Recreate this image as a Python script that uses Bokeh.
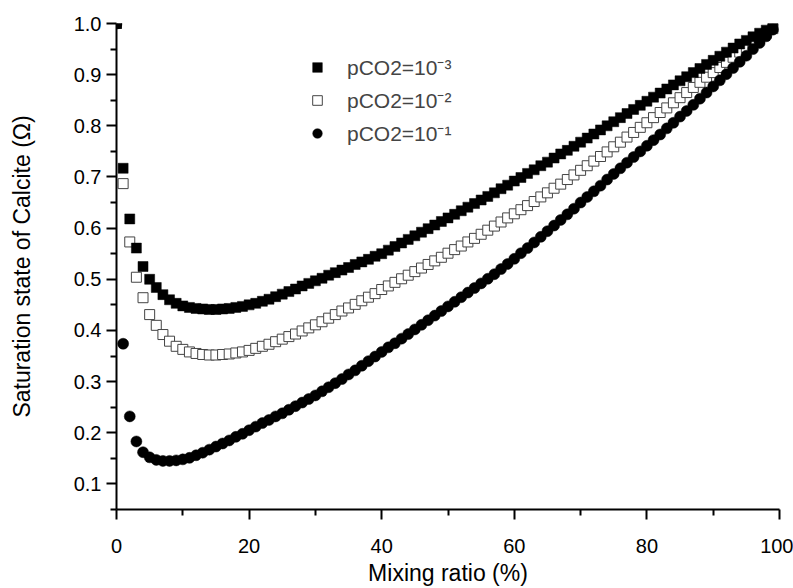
from bokeh.plotting import figure
from bokeh.models import Range1d, FixedTicker, PrintfTickFormatter, Legend, LegendItem
from bokeh.embed import file_html
from bokeh.resources import INLINE

# Mixing ratio (%)
mixing = list(range(0, 100))

# pCO2 = 10^-3 (filled squares)
omega_m3 = [
    1.000, 0.717, 0.618, 0.561, 0.525, 0.500, 0.484, 0.470, 0.460, 0.453,
    0.448, 0.445, 0.443, 0.442, 0.441, 0.441, 0.442, 0.443, 0.445, 0.447,
    0.450, 0.453, 0.457, 0.461, 0.466, 0.471, 0.476, 0.481, 0.487, 0.492,
    0.497, 0.502, 0.508, 0.513, 0.518, 0.523, 0.529, 0.534, 0.539, 0.545,
    0.550, 0.557, 0.564, 0.571, 0.578, 0.585, 0.592, 0.599, 0.606, 0.613,
    0.620, 0.627, 0.634, 0.641, 0.648, 0.655, 0.662, 0.669, 0.677, 0.684,
    0.692, 0.699, 0.707, 0.714, 0.722, 0.729, 0.737, 0.745, 0.752, 0.760,
    0.768, 0.776, 0.784, 0.792, 0.800, 0.808, 0.816, 0.824, 0.832, 0.840,
    0.848, 0.856, 0.864, 0.872, 0.880, 0.888, 0.896, 0.904, 0.912, 0.920,
    0.928, 0.936, 0.944, 0.952, 0.960, 0.967, 0.974, 0.981, 0.987, 0.993,
]

# pCO2 = 10^-2 (open squares)
omega_m2 = [
    1.000, 0.687, 0.573, 0.504, 0.464, 0.431, 0.410, 0.392, 0.379, 0.369,
    0.363, 0.358, 0.355, 0.353, 0.352, 0.352, 0.353, 0.354, 0.356, 0.358,
    0.361, 0.365, 0.369, 0.373, 0.378, 0.383, 0.388, 0.393, 0.399, 0.405,
    0.411, 0.417, 0.424, 0.431, 0.438, 0.444, 0.451, 0.458, 0.465, 0.472,
    0.480, 0.487, 0.494, 0.501, 0.508, 0.515, 0.522, 0.529, 0.536, 0.543,
    0.551, 0.558, 0.565, 0.573, 0.580, 0.588, 0.596, 0.604, 0.612, 0.620,
    0.628, 0.636, 0.644, 0.652, 0.661, 0.669, 0.678, 0.686, 0.695, 0.704,
    0.713, 0.722, 0.731, 0.740, 0.749, 0.759, 0.768, 0.778, 0.787, 0.797,
    0.806, 0.816, 0.826, 0.835, 0.845, 0.855, 0.865, 0.875, 0.885, 0.895,
    0.904, 0.914, 0.924, 0.934, 0.944, 0.953, 0.963, 0.972, 0.981, 0.990,
]

# pCO2 = 10^-1 (filled circles)
omega_m1 = [
    1.000, 0.374, 0.232, 0.183, 0.162, 0.152, 0.147, 0.145, 0.145, 0.146,
    0.148, 0.151, 0.156, 0.161, 0.167, 0.173, 0.179, 0.185, 0.192, 0.198,
    0.205, 0.212, 0.219, 0.225, 0.232, 0.238, 0.245, 0.252, 0.259, 0.266,
    0.273, 0.281, 0.289, 0.297, 0.305, 0.314, 0.322, 0.331, 0.340, 0.349,
    0.358, 0.367, 0.375, 0.384, 0.393, 0.402, 0.411, 0.420, 0.429, 0.438,
    0.447, 0.456, 0.465, 0.474, 0.483, 0.492, 0.501, 0.510, 0.520, 0.530,
    0.540, 0.551, 0.561, 0.572, 0.583, 0.594, 0.605, 0.616, 0.627, 0.638,
    0.650, 0.661, 0.672, 0.683, 0.695, 0.706, 0.717, 0.728, 0.739, 0.750,
    0.761, 0.772, 0.783, 0.795, 0.806, 0.818, 0.829, 0.841, 0.853, 0.865,
    0.877, 0.889, 0.901, 0.913, 0.925, 0.937, 0.950, 0.962, 0.975, 0.988,
]

x_ticks = [0, 20, 40, 60, 80, 100]
x_minor = [10, 30, 50, 70, 90]
y_ticks = [0.1, 0.2, 0.3, 0.4, 0.5, 0.6, 0.7, 0.8, 0.9, 1.0]
y_minor = [0.05, 0.15, 0.25, 0.35, 0.45, 0.55, 0.65, 0.75, 0.85, 0.95]

labels = ["pCO2=10\u207b\u00b3", "pCO2=10\u207b\u00b2", "pCO2=10\u207b\u00b9"]

FONT = "Liberation Sans"

p = figure(width=793, height=588, output_backend="svg", toolbar_location=None,
           x_range=Range1d(0, 100), y_range=Range1d(0.05, 1.0),
           min_border_left=116, min_border_right=14, min_border_top=23,
           min_border_bottom=79)
p.outline_line_color = None
p.xgrid.visible = False
p.ygrid.visible = False
p.background_fill_color = "white"
p.border_fill_color = "white"

r_open = p.scatter(mixing, omega_m2, marker="square", size=10,
                   fill_color="white", line_color="#444444", line_width=1)
r_fill = p.scatter(mixing, omega_m3, marker="square", size=10,
                   fill_color="black", line_color="black", line_width=0.5)
r_circ = p.scatter(mixing, omega_m1, marker="circle", size=11,
                   fill_color="black", line_color="black", line_width=0.5)

for ax in (p.xaxis[0], p.yaxis[0]):
    ax.axis_line_color = "black"
    ax.axis_line_width = 2
    ax.major_tick_line_color = "black"
    ax.minor_tick_line_color = "black"
    ax.major_tick_line_width = 2
    ax.minor_tick_line_width = 2
    ax.major_tick_in = 0
    ax.major_tick_out = 10
    ax.minor_tick_in = 0
    ax.minor_tick_out = 6
    ax.major_label_text_font = FONT
    ax.major_label_text_font_size = "20px"
    ax.major_label_text_color = "black"
    ax.axis_label_text_font = FONT
    ax.axis_label_text_font_size = "23px"
    ax.axis_label_text_font_style = "normal"
    ax.axis_label_text_color = "black"

p.xaxis.ticker = FixedTicker(ticks=x_ticks, minor_ticks=x_minor)
p.yaxis.ticker = FixedTicker(ticks=y_ticks, minor_ticks=y_minor)
p.yaxis.formatter = PrintfTickFormatter(format="%.1f")
p.xaxis.axis_label = "Mixing ratio (%)"
p.yaxis.axis_label = "Saturation state of Calcite (\u03a9)"
p.xaxis.major_label_standoff = 19
p.yaxis.major_label_standoff = 5
p.xaxis.axis_label_standoff = 4
p.yaxis.axis_label_standoff = 36

legend = Legend(items=[LegendItem(label=labels[0], renderers=[r_fill]),
                       LegendItem(label=labels[1], renderers=[r_open]),
                       LegendItem(label=labels[2], renderers=[r_circ])],
                location=(189, 362))
legend.border_line_color = None
legend.background_fill_alpha = 0
legend.padding = 0
legend.margin = 0
legend.spacing = 5
legend.glyph_width = 24
legend.glyph_height = 24
legend.label_height = 24
legend.label_standoff = 18
legend.label_text_font = FONT
legend.label_text_font_size = "21px"
p.add_layout(legend)

open("out.html", "w").write(file_html(p, INLINE))
